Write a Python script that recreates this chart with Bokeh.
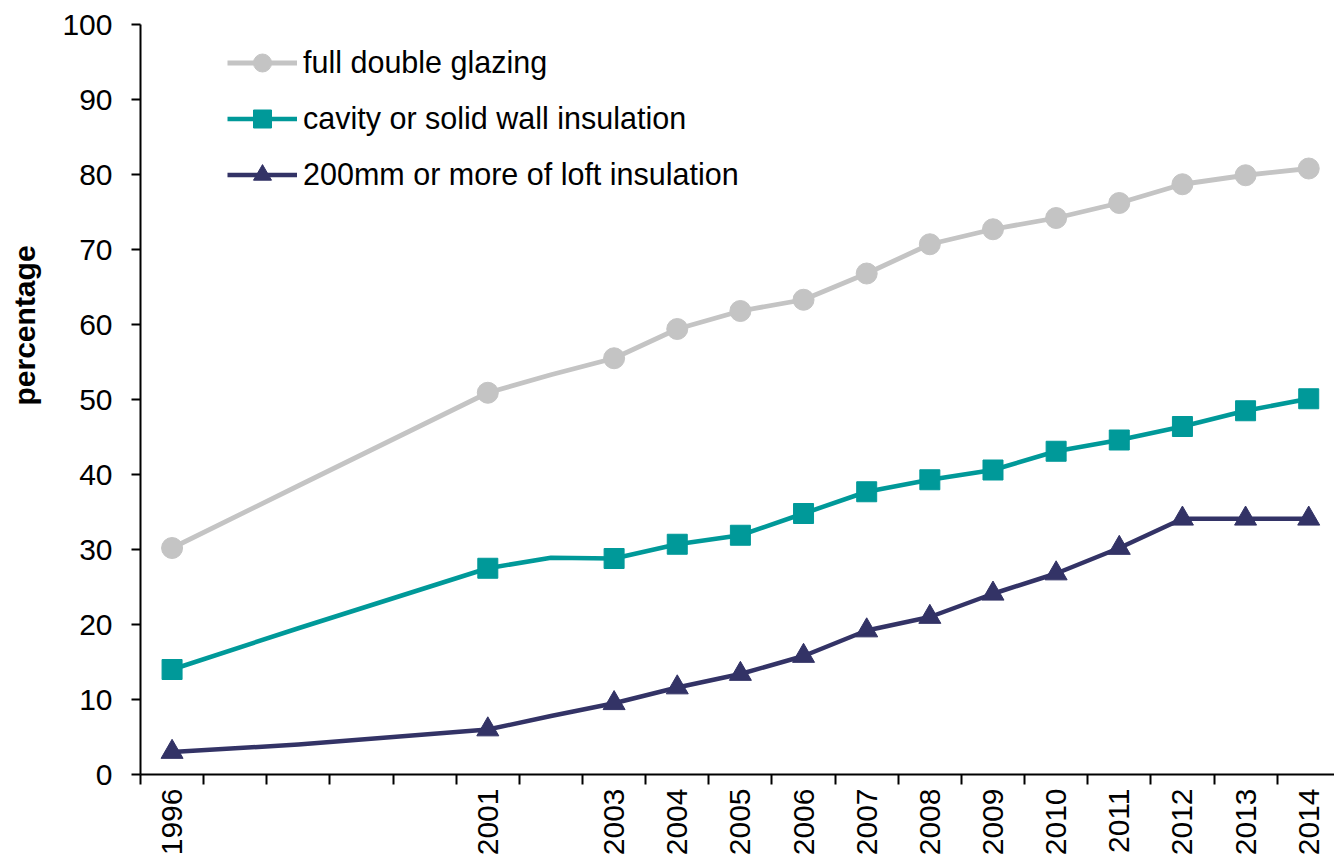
from math import pi
from bokeh.plotting import figure
from bokeh.models import Range1d, FixedTicker, Legend, LegendItem, Title
from bokeh.embed import file_html
from bokeh.resources import INLINE

# ---- data ----
marker_years = [1996, 2001, 2003, 2004, 2005, 2006, 2007, 2008, 2009, 2010, 2011, 2012, 2013, 2014]
glazing = [30.2, 50.9, 55.5, 59.4, 61.8, 63.3, 66.8, 70.7, 72.7, 74.2, 76.2, 78.7, 79.9, 80.8]
cavity = [14.0, 27.5, 28.8, 30.7, 31.9, 34.8, 37.7, 39.3, 40.6, 43.1, 44.6, 46.4, 48.5, 50.1]
loft = [3.0, 6.0, 9.5, 11.6, 13.4, 15.8, 19.2, 21.0, 24.1, 26.8, 30.2, 34.1, 34.1, 34.1]

# line vertices (include intermediate unmarked years)
line_years = [1996, 1998, 2001, 2002, 2003, 2004, 2005, 2006, 2007, 2008, 2009, 2010, 2011, 2012, 2013, 2014]
glazing_line = [30.2, 38.5, 50.9, 53.3, 55.5, 59.4, 61.8, 63.3, 66.8, 70.7, 72.7, 74.2, 76.2, 78.7, 79.9, 80.8]
cavity_line = [14.0, 19.5, 27.5, 28.9, 28.8, 30.7, 31.9, 34.8, 37.7, 39.3, 40.6, 43.1, 44.6, 46.4, 48.5, 50.1]
loft_line = [3.0, 4.0, 6.0, 7.8, 9.5, 11.6, 13.4, 15.8, 19.2, 21.0, 24.1, 26.8, 30.2, 34.1, 34.1, 34.1]

tick_labels = ["1996", "2001", "2003", "2004", "2005", "2006", "2007", "2008", "2009",
               "2010", "2011", "2012", "2013", "2014"]
all_years = list(range(1996, 2015))
series_names = ["full double glazing", "cavity or solid wall insulation", "200mm or more of loft insulation"]
y_ticks = [0, 10, 20, 30, 40, 50, 60, 70, 80, 90, 100]
y_title = "percentage"

# ---- styles ----
FONT = "Liberation Sans"
FS = "30px"
FS_LEG = "30.5px"
C_GLAZ = "#C4C4C4"
C_CAV = "#009999"
C_LOFT = "#333366"

p = figure(width=1334, height=862, output_backend="svg", toolbar_location=None,
           x_range=Range1d(1995.5, 1995.5 + 1195 / 63.2), y_range=Range1d(0, 100),
           min_border_left=139, min_border_right=0, min_border_top=24, min_border_bottom=88)
p.outline_line_color = None
p.xgrid.visible = False
p.ygrid.visible = False
p.background_fill_color = "white"

# lines + markers
l1 = p.line(line_years, glazing_line, line_color=C_GLAZ, line_width=4.8, line_join="round")
s1 = p.scatter(marker_years, glazing, marker="circle", size=21, fill_color=C_GLAZ, line_color=C_GLAZ)
l2 = p.line(line_years, cavity_line, line_color=C_CAV, line_width=4.5, line_join="round")
s2 = p.scatter(marker_years, cavity, marker="square", size=20, fill_color=C_CAV, line_color=C_CAV)
l3 = p.line(line_years, loft_line, line_color=C_LOFT, line_width=4.5, line_join="round")
s3 = p.scatter(marker_years, loft, marker="triangle", size=22, fill_color=C_LOFT, line_color=C_LOFT)

# x axis: labels at category centres, tick marks at boundaries
boundaries = [y - 0.5 for y in all_years]
p.xaxis.ticker = FixedTicker(ticks=marker_years, minor_ticks=boundaries)
p.xaxis.major_label_overrides = {yr: lab for yr, lab in zip(marker_years, tick_labels)}
p.xaxis.major_label_orientation = pi / 2
p.xaxis.major_tick_line_color = None
p.xaxis.major_tick_out = 0
p.xaxis.major_tick_in = 0
p.xaxis.minor_tick_line_color = "black"
p.xaxis.minor_tick_line_width = 2
p.xaxis.minor_tick_out = 10
p.xaxis.minor_tick_in = 0
p.xaxis.major_label_standoff = 4
p.xaxis.axis_line_width = 2
p.xaxis.axis_line_color = "black"
p.xaxis.major_label_text_font = FONT
p.xaxis.major_label_text_font_size = FS
p.xaxis.major_label_text_color = "black"

# y axis
p.yaxis.ticker = FixedTicker(ticks=y_ticks)
p.yaxis.minor_tick_line_color = None
p.yaxis.major_tick_out = 9
p.yaxis.major_tick_in = 0
p.yaxis.major_tick_line_width = 2
p.yaxis.major_tick_line_color = "black"
p.yaxis.axis_line_width = 2
p.yaxis.axis_line_color = "black"
p.yaxis.major_label_standoff = 19
p.yaxis.major_label_text_font = FONT
p.yaxis.major_label_text_font_size = FS
p.yaxis.major_label_text_color = "black"
# invisible spacer label to push the title further left
p.yaxis.axis_label = " "
p.yaxis.axis_label_standoff = 10
p.yaxis.axis_label_text_font_size = "1px"

# y axis title (placed above centre, as in the original)
ytitle = Title(text=y_title, align="left", offset=369,
               text_font=FONT, text_font_size=FS, text_font_style="bold", text_color="black")
p.add_layout(ytitle, "left")

legend = Legend(items=[LegendItem(label=series_names[0], renderers=[l1, s1]),
                       LegendItem(label=series_names[1], renderers=[l2, s2]),
                       LegendItem(label=series_names[2], renderers=[l3, s3])],
                location=(87, 577), orientation="vertical",
                glyph_width=70, glyph_height=45, label_height=45, spacing=11,
                padding=0, margin=0, label_standoff=6,
                border_line_color=None, background_fill_alpha=0,
                label_text_font=FONT, label_text_font_size=FS_LEG, label_text_color="black")
p.add_layout(legend)

open("out.html", "w").write(file_html(p, INLINE))
